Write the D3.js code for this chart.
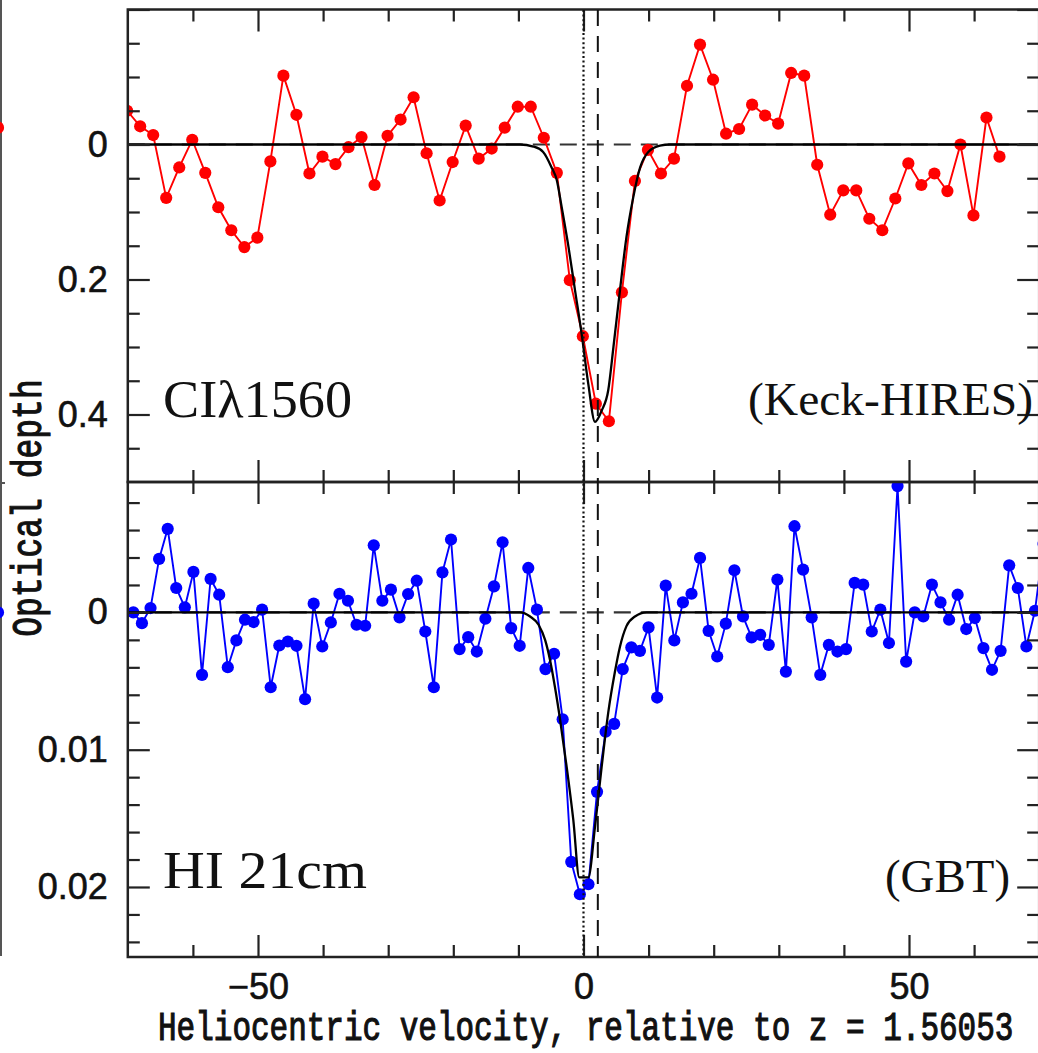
<!DOCTYPE html>
<html><head><meta charset="utf-8">
<script src="https://cdn.jsdelivr.net/npm/d3@7"></script>
<style>
html,body{margin:0;padding:0;background:#fff;}
svg{display:block;}
</style></head>
<body>
<svg id="c" width="1038" height="1053"></svg>
<script>
// ---------------- DATA ----------------
const redV = [-70.1,-68.1,-66.1,-64.1,-62.1,-60.1,-58.1,-56.1,-54.1,-52.1,-50.1,-48.1,-46.1,-44.1,-42.1,-40.1,-38.1,-36.1,-34.1,-32.1,-30.1,-28.1,-26.1,-24.1,-22.1,-20.1,-18.1,-16.1,-14.1,-12.1,-10.1,-8.1,-6.1,-4.1,-2.1,-0.1,1.9,3.9,5.9,7.9,9.9,11.9,13.9,15.9,17.9,19.9,21.9,23.9,25.9,27.9,29.9,31.9,33.9,35.9,37.9,39.9,41.9,43.9,45.9,47.9,49.9,51.9,53.9,55.9,57.9,59.9,61.9,63.9];
const redTau = [-0.050,
 -0.027,-0.014,0.079,0.034,-0.007,0.042,0.093,0.127,0.152,0.138,
 0.025,-0.102,-0.044,0.043,0.018,0.029,0.004,-0.011,0.060,-0.013,
 -0.037,-0.070,0.013,0.083,0.026,-0.028,0.021,0.006,-0.025,-0.056,
 -0.056,-0.010,0.042,0.201,0.284,0.384,0.410,0.219,0.054,0.008,
 0.043,0.021,-0.087,-0.148,-0.096,-0.016,-0.023,-0.059,-0.043,-0.031,
 -0.106,-0.102,0.030,0.104,0.068,0.068,0.110,0.127,0.080,0.028,
 0.060,0.043,0.069,0.000,0.105,-0.040,0.018];

const blueV = [-69.15,-67.83,-66.51,-65.19,-63.87,-62.56,-61.24,-59.92,-58.60,-57.28,
 -55.96,-54.64,-53.32,-52.00,-50.68,-49.37,-48.05,-46.73,-45.41,-44.09,
 -42.77,-41.45,-40.13,-38.81,-37.49,-36.18,-34.86,-33.54,-32.22,-30.90,
 -29.58,-28.26,-26.94,-25.62,-24.30,-22.99,-21.67,-20.35,-19.03,-17.71,
 -16.39,-15.07,-13.75,-12.43,-11.11,-9.80,-8.48,-7.16,-5.84,-4.52,
 -3.20,-1.88,-0.56,0.76,2.08,3.40,4.71,6.03,7.35,8.67,
 9.99,11.31,12.63,13.95,15.27,16.59,17.90,19.22,20.54,21.86,
 23.18,24.50,25.82,27.14,28.46,29.78,31.09,32.41,33.73,35.05,
 36.37,37.69,39.01,40.33,41.65,42.97,44.28,45.60,46.92,48.24,
 49.56,50.88,52.20,53.52,54.84,56.16,57.47,58.79,60.11,61.43,
 62.75,64.07,65.39,66.71,68.03,69.35,70.67];
const blueTau = [0.00000,0.00078,-0.00032,-0.00390,-0.00609,-0.00178,-0.00037,-0.00295,0.00455,-0.00244,
 -0.00129,0.00399,0.00204,0.00053,0.00070,-0.00020,0.00545,0.00241,0.00212,0.00243,
 0.00632,-0.00064,0.00248,0.00073,-0.00136,-0.00085,0.00090,0.00097,-0.00489,-0.00085,
 -0.00166,0.00036,-0.00134,-0.00231,0.00139,0.00545,-0.00292,-0.00531,0.00267,0.00180,
 0.00285,0.00046,-0.00190,-0.00511,0.00114,0.00243,-0.00324,-0.00020,0.00413,0.00301,
 0.00778,0.01817,0.02053,0.01980,0.01307,0.00869,0.00812,0.00413,0.00255,0.00280,
 0.00109,0.00620,-0.00195,0.00204,-0.00073,-0.00136,-0.00397,0.00134,0.00321,0.00082,
 -0.00307,0.00029,0.00182,0.00163,0.00236,-0.00239,0.00431,-0.00628,-0.00312,0.00036,
 0.00455,0.00236,0.00285,0.00267,-0.00215,-0.00202,0.00139,-0.00020,0.00223,-0.00920,
 0.00358,0.00000,0.00029,-0.00202,-0.00073,0.00053,-0.00129,0.00121,0.00041,0.00260,
 0.00418,0.00280,-0.00343,-0.00178,0.00248,-0.00012,-0.00500];

// model fits
const topFitV   = [-70,-9.75,-7.7,-6.2,-4.9,-4.1,-3.35,-2.3,-1.3,-0.28,0.74,1.77,2.8,3.8,4.6,5.6,6.6,7.65,8.7,9.95,11.75,13.3,70];
const topFitTau = [0,0,0.003,0.011,0.034,0.053,0.093,0.152,0.216,0.281,0.355,0.411,0.394,0.364,0.300,0.216,0.137,0.078,0.034,0.011,0.0015,0,0];
const botFitV   = [-70,-9.75,-8.2,-6.9,-5.9,-5.15,-4.4,-3.6,-2.6,-1.57,-0.65,0.74,1.77,2.8,3.8,4.8,5.6,6.6,7.9,9.7,70];
const botFitTau = [0,0,0.0003,0.0009,0.002,0.00345,0.0054,0.0078,0.0112,0.0151,0.0193,0.0193,0.0156,0.0112,0.0073,0.0044,0.0025,0.001,0.0003,0,0];

const zeroVel = 0;      // dotted line
const fitVel = 2.2;     // dashed line

// ticks
const xMajor = [-50,0,50];
const xMinor = [-60,-40,-30,-20,-10,10,20,30,40,60];
const xTickLabels = ["\u221250","0","50"];
const topMajor = [-0.2,0,0.2,0.4];
const topMinor = [-0.15,-0.1,-0.05,0.05,0.1,0.15,0.25,0.3,0.35,0.45];
const topTickLabels = {"0":"0","0.2":"0.2","0.4":"0.4"};
const botMajor = [0,0.01,0.02];
const botMinor = [-0.008,-0.006,-0.004,-0.002,0.002,0.004,0.006,0.008,0.012,0.014,0.016,0.018,0.022,0.024];
const botTickLabels = {"0":"0","0.01":"0.01","0.02":"0.02"};

// neighbouring (cropped) panel remnants
const leftRedTau = [-0.025];
const leftBlueTau = [0.0];

// ---------------- DRAW ----------------
const svg = d3.select("#c");
svg.append("rect").attr("width",1038).attr("height",1053).attr("fill","#fff");

const L = 127.8, R = 1039.2;
const x = d3.scaleLinear().domain([-70,70]).range([L,R]);
const yTop = d3.scaleLinear().domain([-0.2,0.5]).range([9.5,482]);
const yBot = d3.scaleLinear().domain([-0.0095,0.0251]).range([482,957]);

const frameCol = "#222";
const defs = svg.append("defs");
const DOT_R = 6.1;

// neighbour remnant
svg.append("line").attr("x1",1).attr("x2",1).attr("y1",0).attr("y2",956)
  .attr("stroke","#555").attr("stroke-width",2);
svg.append("line").attr("x1",0).attr("x2",5).attr("y1",483).attr("y2",483)
  .attr("stroke","#555").attr("stroke-width",2);
svg.selectAll(".lr").data(leftRedTau).enter().append("circle")
  .attr("cx",-2).attr("cy",d=>yTop(d)).attr("r",DOT_R).attr("fill","#ff0000");
svg.selectAll(".lb").data(leftBlueTau).enter().append("circle")
  .attr("cx",-2).attr("cy",d=>yBot(d)).attr("r",DOT_R).attr("fill","#0000ff");

function panel(id, y, major, minor, labels, vals, taus, color, fitV, fitT, showX) {
  const y0 = y.range()[0], y1 = y.range()[1];
  defs.append("clipPath").attr("id","clip"+id).append("rect")
    .attr("x",L).attr("y",y0).attr("width",R-L).attr("height",y1-y0);
  const g = svg.append("g");
  const clipG = g.append("g").attr("clip-path","url(#clip"+id+")");

  // zero dashed line
  clipG.append("line").attr("x1",L).attr("x2",R).attr("y1",y(0)).attr("y2",y(0))
    .attr("stroke","#333").attr("stroke-width",2.2).attr("stroke-dasharray","17,10");

  // data line + points
  const pts = vals.map((v,i)=>[v,taus[i]]);
  clipG.append("path").datum(pts)
    .attr("d", d3.line().x(d=>x(d[0])).y(d=>y(d[1])))
    .attr("fill","none").attr("stroke",color).attr("stroke-width",1.9);
  clipG.selectAll("circle.p").data(pts).enter().append("circle")
    .attr("cx",d=>x(d[0])).attr("cy",d=>y(d[1])).attr("r",DOT_R).attr("fill",color);

  // fit
  const fp = fitV.map((v,i)=>[v,fitT[i]]);
  clipG.append("path").datum(fp)
    .attr("d", d3.line().x(d=>x(d[0])).y(d=>y(d[1])).curve(d3.curveMonotoneX))
    .attr("fill","none").attr("stroke","#000").attr("stroke-width",2.3);

  // axes (inward ticks)
  function styleAxis(sel){
    sel.select(".domain").remove();
    sel.selectAll(".tick line").attr("stroke",frameCol).attr("stroke-width",2.2);
  }
  const fmt = d => labels[String(+d.toFixed(4))] || "";
  const labStyle = s => s.attr("font-family","'Liberation Sans', Arial, sans-serif")
      .attr("font-size",36).attr("fill","#111").attr("stroke","#111").attr("stroke-width",0.6);
  g.append("g").attr("transform",`translate(${L},0)`)
    .call(d3.axisLeft(y).tickValues(major).tickSizeInner(-22).tickSizeOuter(0).tickPadding(20).tickFormat(fmt))
    .call(styleAxis)
    .call(s=>labStyle(s.selectAll("text")));
  g.append("g").attr("transform",`translate(${L},0)`)
    .call(d3.axisLeft(y).tickValues(minor).tickSizeInner(-12).tickSizeOuter(0).tickFormat(""))
    .call(styleAxis);
  g.append("g").attr("transform",`translate(${R},0)`)
    .call(d3.axisRight(y).tickValues(major).tickSizeInner(-22).tickSizeOuter(0).tickFormat(""))
    .call(styleAxis);
  g.append("g").attr("transform",`translate(${R},0)`)
    .call(d3.axisRight(y).tickValues(minor).tickSizeInner(-12).tickSizeOuter(0).tickFormat(""))
    .call(styleAxis);
  g.append("g").attr("transform",`translate(0,${y0})`)
    .call(d3.axisTop(x).tickValues(xMajor).tickSizeInner(-22).tickSizeOuter(0).tickFormat(""))
    .call(styleAxis);
  g.append("g").attr("transform",`translate(0,${y0})`)
    .call(d3.axisTop(x).tickValues(xMinor).tickSizeInner(-12).tickSizeOuter(0).tickFormat(""))
    .call(styleAxis);
  const bx = g.append("g").attr("transform",`translate(0,${y1})`)
    .call(d3.axisBottom(x).tickValues(xMajor).tickSizeInner(-22).tickSizeOuter(0).tickPadding(16)
      .tickFormat((d,i)=> showX ? xTickLabels[i] : ""))
    .call(styleAxis);
  labStyle(bx.selectAll("text"));
  g.append("g").attr("transform",`translate(0,${y1})`)
    .call(d3.axisBottom(x).tickValues(xMinor).tickSizeInner(-12).tickSizeOuter(0).tickFormat(""))
    .call(styleAxis);

  // frame
  g.append("rect").attr("x",L).attr("y",y0).attr("width",R-L).attr("height",y1-y0)
    .attr("fill","none").attr("stroke",frameCol).attr("stroke-width",2.5);
}

panel("t", yTop, topMajor, topMinor, topTickLabels, redV, redTau, "#ff0000", topFitV, topFitTau, false);
panel("b", yBot, botMajor, botMinor, botTickLabels, blueV, blueTau, "#0000ff", botFitV, botFitTau, true);

// vertical reference lines across both panels
svg.append("line").attr("x1",x(zeroVel)).attr("x2",x(zeroVel)).attr("y1",10).attr("y2",957)
  .attr("stroke","#111").attr("stroke-width",2.2).attr("stroke-dasharray","2,2.6");
svg.append("line").attr("x1",x(fitVel)).attr("x2",x(fitVel)).attr("y1",10).attr("y2",957)
  .attr("stroke","#111").attr("stroke-width",2).attr("stroke-dasharray","16,10");

// texts
const serif = "'Liberation Serif','Times New Roman',serif";
const mono = "'Liberation Mono','Courier New',monospace";
function txt(s, xx, yy, size, fam, len) {
  const t = svg.append("text").attr("x",xx).attr("y",yy).attr("font-size",size)
    .attr("font-family",fam).attr("fill","#111").text(s);
  if (len) t.attr("textLength",len).attr("lengthAdjust","spacingAndGlyphs");
  return t;
}
txt("CI\u03bb1560", 163, 417, 52, serif, 189);
txt("HI 21cm", 163, 888, 52, serif, 204);
txt("(Keck-HIRES)", 748, 415, 46, serif, 285);
txt("(GBT)", 885, 892, 46, serif, 125);
// axis titles: monospace, stretched vertically to match the tall plotting font
svg.append("text").attr("transform","translate(158,1040) scale(1,1.3)")
  .attr("font-size",31).attr("font-family",mono).attr("fill","#111")
  .attr("stroke","#111").attr("stroke-width",0.9)
  .text("Heliocentric velocity, relative to z = 1.56053");
svg.append("text").attr("transform","translate(41,508) rotate(-90) scale(1,1.3)")
  .attr("text-anchor","middle").attr("font-size",33).attr("font-family",mono).attr("fill","#111")
  .attr("stroke","#111").attr("stroke-width",0.9)
  .text("Optical depth");
</script>
</body></html>
